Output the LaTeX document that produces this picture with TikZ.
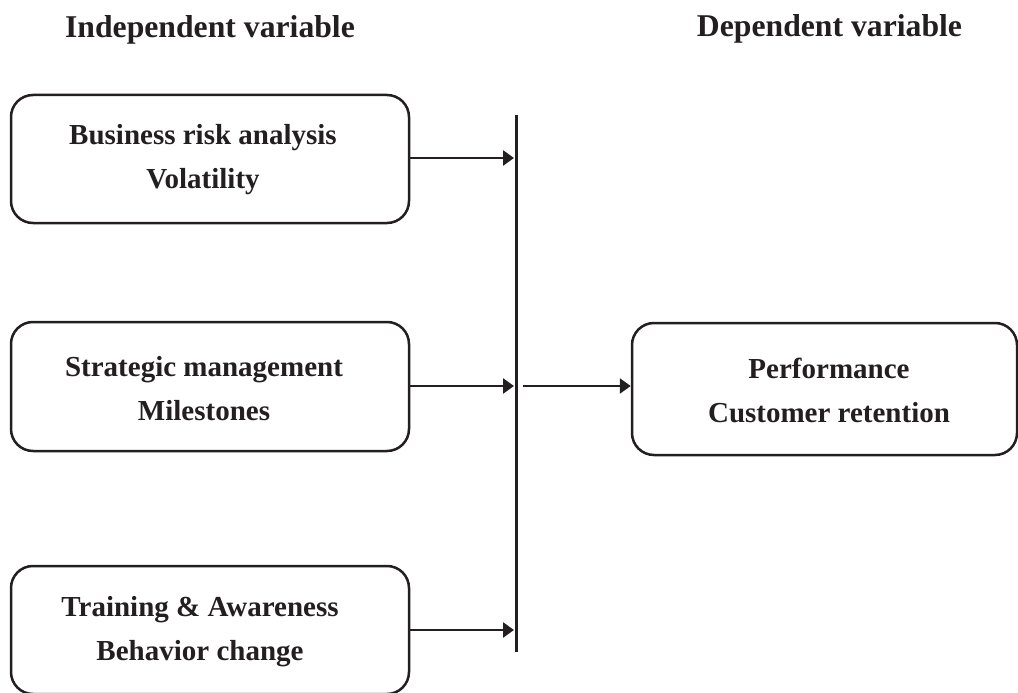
\documentclass[tikz,border=0pt]{standalone}
\usepackage{fontspec}
\setmainfont{Liberation Serif}
\usetikzlibrary{arrows.meta}
\definecolor{ink}{HTML}{231F20}
\tikzset{
  varbox/.style={draw=ink, line width=2.5pt, rounded corners=22pt},
  boxtext/.style={font=\bfseries\fontsize{29}{44}\selectfont, align=center, text=ink},
  headtext/.style={font=\bfseries\fontsize{31.7}{36}\selectfont, text=ink},
  flow/.style={draw=ink, line width=2.5pt, -{Triangle[length=11pt,width=15pt]}},
}
\begin{document}
\begin{tikzpicture}[x=1pt,y=-1pt]
\useasboundingbox (0,0) rectangle (1018,693);
\clip (0,0) rectangle (1018,693);

% column headings
\node[headtext] (hin) at (210,30) {Independent variable};
\node[headtext] (hdep) at (829.5,29) {Dependent variable};

% independent variables
\node[varbox, minimum width=398pt, minimum height=128pt] (b1) at (210,159) {};
\node[boxtext] (t1) at (203,160) {Business risk analysis\\Volatility};
\node[varbox, minimum width=398pt, minimum height=129pt] (b2) at (210,386.5) {};
\node[boxtext] (t2) at (204,389) {Strategic management\\Milestones};
\node[varbox, minimum width=398pt, minimum height=128pt] (b3) at (210,630) {};
\node[boxtext] (t3) at (200,632) {Training \& Awareness\\Behavior change};

% dependent variable
\node[varbox, minimum width=385pt, minimum height=132pt] (d) at (824.5,389) {};
\node[boxtext] (t4) at (829,390) {Performance\\Customer retention};

% collecting bar
\coordinate (bt) at (516.5,115);
\coordinate (bb) at (516.5,652);
\draw[draw=ink, line width=2.5pt] (bt) -- (bb);

\coordinate (e1) at (514,158);
\coordinate (e2) at (514,386);
\coordinate (e3) at (514,630);
\coordinate (s4) at (523,386);
\draw[flow] (b1.east |- e1) -- (e1);
\draw[flow] (b2.east |- e2) -- (e2);
\draw[flow] (b3.east |- e3) -- (e3);
\draw[flow] (s4) -- (d.west |- s4);
\end{tikzpicture}
\end{document}
